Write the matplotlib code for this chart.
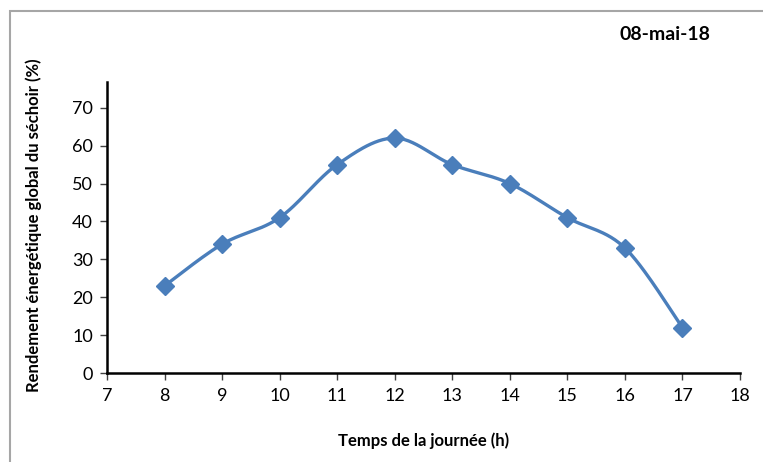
import numpy as np
import matplotlib
matplotlib.use('Agg')
import matplotlib.pyplot as plt
from matplotlib.patches import Rectangle

plt.rcParams['font.family'] = ['Lato', 'DejaVu Sans']

heures = [8, 9, 10, 11, 12, 13, 14, 15, 16, 17]
rendement = [23, 34, 41, 55, 62, 55, 50, 41, 33, 12]
xticks = list(range(7, 19))
yticks = list(range(0, 80, 10))
titre = '08-mai-18'


def smooth(x, y, n=30):
    # Bezier lissage façon tableur (tangentes Catmull-Rom / 6)
    px = np.array(x, float)
    py = np.array(y, float)
    px_e = np.concatenate([[px[0]], px, [px[-1]]])
    py_e = np.concatenate([[py[0]], py, [py[-1]]])
    xs, ys = [], []
    t = np.linspace(0, 1, n)
    for i in range(len(px) - 1):
        p0 = np.array([px_e[i + 1], py_e[i + 1]])
        p3 = np.array([px_e[i + 2], py_e[i + 2]])
        c1 = p0 + (p3 - np.array([px_e[i], py_e[i]])) / 6
        c2 = p3 - (np.array([px_e[i + 3], py_e[i + 3]]) - p0) / 6
        b = ((1 - t) ** 3)[:, None] * p0 + (3 * (1 - t) ** 2 * t)[:, None] * c1 \
            + (3 * (1 - t) * t ** 2)[:, None] * c2 + (t ** 3)[:, None] * p3
        xs.extend(b[:, 0])
        ys.extend(b[:, 1])
    return xs, ys


fig = plt.figure(figsize=(7.63, 4.62), dpi=100)
ax = fig.add_axes([107 / 763, 1 - 373 / 462, 633 / 763, 291 / 462])

sx, sy = smooth(heures, rendement)
ax.plot(sx, sy, color='#4A7EBB', lw=2.4, solid_capstyle='round')
ax.plot(heures, rendement, linestyle='none', marker='D', markersize=9,
        color='#4A7EBB', markeredgecolor='#4A7EBB')

ax.set_xlim(7, 18)
ax.set_ylim(0, 76.8)
ax.set_xticks(xticks)
ax.set_yticks(yticks)
ax.tick_params(axis='both', labelsize=13, direction='out', length=5, width=1, color='#404040')
ax.tick_params(axis='x', pad=6)
ax.tick_params(axis='y', pad=5)
for s in ['top', 'right']:
    ax.spines[s].set_visible(False)
for s in ['left', 'bottom']:
    ax.spines[s].set_linewidth(1.8)
    ax.spines[s].set_color('black')

ax.set_xlabel('Temps de la journée (h)', fontsize=12, fontweight='bold', labelpad=20)
fig.text(34 / 763, 1 - 225 / 462, 'Rendement énergétique global du séchoir (%)', rotation=90,
         fontsize=12, fontweight='bold', ha='center', va='center')
fig.text(665 / 763, 1 - 35 / 462, titre, fontsize=14, fontweight='bold',
         ha='center', va='center')

# cadre gris autour du graphique
fig.patches.append(Rectangle((10 / 763, -0.1), 1.0, 1 - 11 / 462 + 0.1, transform=fig.transFigure,
                             fill=False, edgecolor='#A6A6A6', lw=1.5))

fig.savefig('out.png', dpi=100)
